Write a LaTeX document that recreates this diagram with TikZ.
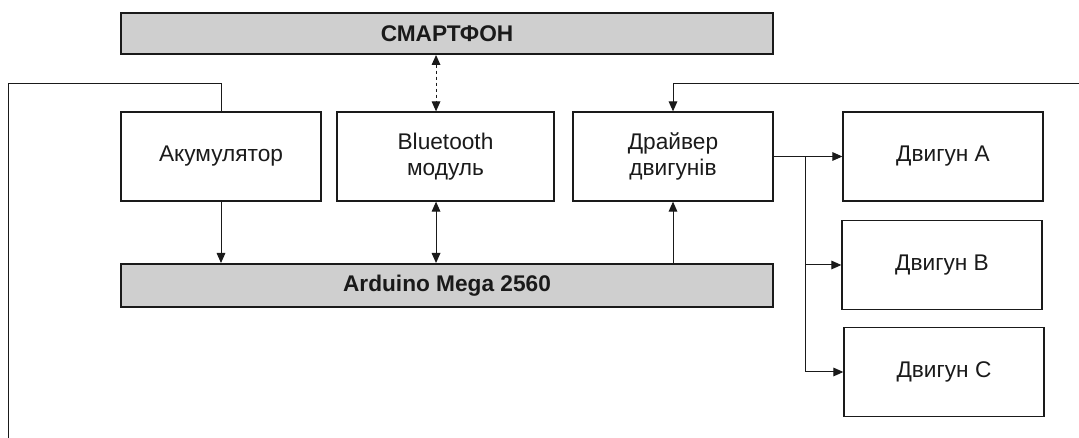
\documentclass[tikz,border=0pt]{standalone}
\usepackage{fontspec}
\setmainfont{Liberation Sans}
\usetikzlibrary{arrows.meta,calc}
\definecolor{boxgray}{HTML}{CFCFCF}
\definecolor{ink}{HTML}{1A1A1A}
\begin{document}
\begin{tikzpicture}[x=0.75pt,y=-0.75pt,
  txt/.style={font=\fontsize{17}{20}\selectfont, text=ink, align=center, inner sep=0pt},
  wbox/.style={txt, draw=ink, line width=1pt, fill=white, minimum width=150pt, minimum height=66.75pt},
  gbox/.style={txt, font=\fontsize{17}{20}\selectfont\bfseries, draw=ink, line width=1.5pt, fill=boxgray, minimum width=489pt},
  conn/.style={draw=ink, line width=0.75pt},
  arr/.style={conn, -{Triangle[length=7.5pt,width=6.5pt]}},
  darr/.style={conn, {Triangle[length=7.5pt,width=6.5pt]}-{Triangle[length=7.5pt,width=6.5pt]}}
]
\useasboundingbox (0,0) rectangle (1079,438);
\fill[white] (0,0) rectangle (1079,438);

\node[gbox, minimum height=30.75pt] (phone) at (447,33.5) {СМАРТФОН};
\node[gbox, minimum height=32.25pt] (ard) at (447,285.5) {Arduino Mega 2560};

\node[wbox] (akum) at (221,156.5) {Акумулятор};
\node[wbox, minimum width=162.75pt] (bt) at (445.5,156.5) {Bluetooth\\модуль\hspace*{0pt}};
\node[wbox] (drv) at (673,156.5) {Драйвер\\двигунів};
\node[wbox] (ma) at (943,156.5) {Двигун A};
\node[wbox] (mb) at (942,265) {Двигун B};
\node[wbox] (mc) at (944,372) {Двигун C};

\coordinate (loopL) at (8,84);
\coordinate (loopLend) at (8,450);
\coordinate (loopR) at (1090,84);
\coordinate (br) at (805,156.5);

% feedback loop lines
\draw[conn] (akum.north) |- (loopL) -- (loopLend);
\draw[arr] (loopR) -| (drv.north);

% vertical links
\draw[arr] (akum.south) -- (akum.south |- ard.north);
\draw[darr] ([xshift=-7.1pt]bt.south) -- ([xshift=-7.1pt]bt.south |- ard.north);
\draw[darr, dash pattern=on 2.25pt off 2.25pt] ([xshift=-7.1pt]bt.north |- phone.south) -- ([xshift=-7.1pt]bt.north);
\draw[arr] (drv.south |- ard.north) -- (drv.south);

% driver to motors
\draw[arr] (drv.east) -- (ma.west);
\draw[arr] (br) |- (mb.west);
\draw[arr] (br) |- (mc.west);
\end{tikzpicture}
\end{document}
